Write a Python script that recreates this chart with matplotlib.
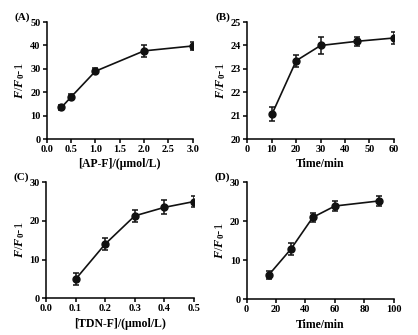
import matplotlib
matplotlib.use('Agg')
import matplotlib.pyplot as plt

plt.rcParams['font.family'] = 'Liberation Serif'
plt.rcParams['font.weight'] = 'bold'
plt.rcParams['mathtext.fontset'] = 'custom'
plt.rcParams['mathtext.rm'] = 'Liberation Serif'
plt.rcParams['mathtext.it'] = 'Liberation Serif:italic'

# panel A
a_x = [0.3, 0.5, 1.0, 2.0, 3.0]
a_y = [13.5, 18.0, 29.0, 37.7, 39.8]
a_err = [1.2, 1.3, 1.2, 2.5, 1.8]
# panel B
b_x = [10, 20, 30, 45, 60]
b_y = [21.05, 23.35, 24.0, 24.18, 24.32]
b_err = [0.3, 0.25, 0.35, 0.2, 0.25]
# panel C
c_x = [0.1, 0.2, 0.3, 0.4, 0.5]
c_y = [4.9, 14.0, 21.3, 23.5, 25.0]
c_err = [1.5, 1.5, 1.5, 1.8, 1.4]
# panel D
d_x = [15, 30, 45, 60, 90]
d_y = [6.2, 12.8, 21.0, 23.9, 25.2]
d_err = [0.9, 1.5, 1.2, 1.4, 1.3]

fig = plt.figure(figsize=(4.18, 3.35), dpi=100)

panels = [
    ([0.112, 0.585, 0.349, 0.349], a_x, a_y, a_err, (0, 3.0), [0, 0.5, 1.0, 1.5, 2.0, 2.5, 3.0], '{:.1f}',
     (0, 50), [0, 10, 20, 30, 40, 50], '[AP-F]/(μmol/L)', '(A)'),
    ([0.592, 0.585, 0.350, 0.349], b_x, b_y, b_err, (0, 60), [0, 10, 20, 30, 40, 50, 60], '{:d}',
     (20, 25), [20, 21, 22, 23, 24, 25], 'Time/min', '(B)'),
    ([0.110, 0.110, 0.354, 0.346], c_x, c_y, c_err, (0, 0.5), [0, 0.1, 0.2, 0.3, 0.4, 0.5], '{:.1f}',
     (0, 30), [0, 10, 20, 30], '[TDN-F]/(μmol/L)', '(C)'),
    ([0.590, 0.107, 0.352, 0.349], d_x, d_y, d_err, (0, 100), [0, 20, 40, 60, 80, 100], '{:d}',
     (0, 30), [0, 10, 20, 30], 'Time/min', '(D)'),
]

for pos, x, y, err, xlim, xt, fmt, ylim, yt, xlabel, tag in panels:
    ax = fig.add_axes(pos)
    ax.errorbar(x, y, yerr=err, color='#111111', marker='o', markersize=5,
                linewidth=1.2, elinewidth=1.1, capsize=2.2, capthick=1.1)
    ax.set_xlim(xlim)
    ax.set_ylim(ylim)
    ax.set_xticks(xt)
    ax.set_xticklabels([fmt.format(v) for v in xt])
    ax.set_yticks(yt)
    ax.spines['top'].set_visible(False)
    ax.spines['right'].set_visible(False)
    ax.spines['left'].set_linewidth(1.1)
    ax.spines['bottom'].set_linewidth(1.1)
    ax.tick_params(direction='out', length=3, width=1.1, labelsize=7.5, pad=1.5)
    for lab in ax.get_xticklabels() + ax.get_yticklabels():
        lab.set_fontweight('bold')
    ax.set_xlabel(xlabel, fontsize=8.5, fontweight='bold', labelpad=3)
    ax.set_ylabel(r'$\mathit{F}$/$\mathit{F}_0$-1', fontsize=9, labelpad=2)
    ax.text(-0.22, 1.04, tag, transform=ax.transAxes, fontsize=8, fontweight='bold',
            ha='left', va='center')

fig.savefig('out.png', dpi=100)
